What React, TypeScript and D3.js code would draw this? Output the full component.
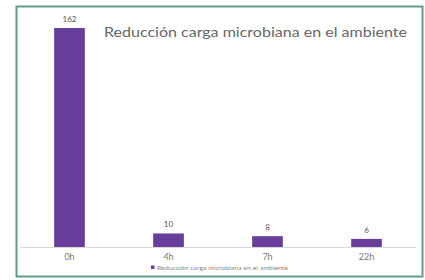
import React, { useEffect, useRef } from 'react';
import * as d3 from 'd3';

const categories = ['0h', '4h', '7h', '22h'];
const values = [162, 10, 8, 6];
const seriesName = 'Reducción carga microbiana en el ambiente';
const title = 'Reducción carga microbiana en el ambiente';

export default function App() {
    const svgRef = useRef<SVGSVGElement>(null);
    const width = 425,
        height = 280;
    const margin = { top: 28, right: 9, bottom: 33, left: 20 };

    useEffect(() => {
        const svg = d3.select(svgRef.current);
        svg.selectAll('*').remove();

        // frame
        const frame = { x0: 16.5, y0: 6.5, x1: 422.5, y1: 276.5 };
        svg.append('rect')
            .attr('x', frame.x0)
            .attr('y', frame.y0)
            .attr('width', frame.x1 - frame.x0)
            .attr('height', frame.y1 - frame.y0)
            .attr('fill', '#fff')
            .attr('stroke', '#5e9c88')
            .attr('stroke-width', 2);

        const baseline = height - margin.bottom;
        const x = d3
            .scaleBand()
            .domain(categories)
            .range([margin.left, width - margin.right])
            .paddingInner(0.69)
            .paddingOuter(0.345);
        const y = d3.scaleLinear().domain([0, 162]).range([baseline, margin.top]);

        // baseline
        svg.append('line')
            .attr('x1', margin.left)
            .attr('x2', width - margin.right)
            .attr('y1', baseline + 0.5)
            .attr('y2', baseline + 0.5)
            .attr('stroke', '#d9d9d9')
            .attr('stroke-width', 1);

        // bars
        svg.selectAll('rect.bar')
            .data(values)
            .join('rect')
            .attr('class', 'bar')
            .attr('x', (d, i) => x(categories[i])!)
            .attr('y', (d) => y(d))
            .attr('width', x.bandwidth())
            .attr('height', (d) => baseline - y(d))
            .attr('fill', '#673f9a');

        // value labels
        svg.selectAll('text.val')
            .data(values)
            .join('text')
            .attr('class', 'val')
            .attr('x', (d, i) => x(categories[i])! + x.bandwidth() / 2)
            .attr('y', (d) => y(d) - 6)
            .attr('text-anchor', 'middle')
            .attr('font-family', 'Lato, sans-serif')
            .attr('font-size', 8)
            .attr('fill', '#555')
            .text((d) => d);

        // category labels
        svg.selectAll('text.cat')
            .data(categories)
            .join('text')
            .attr('class', 'cat')
            .attr('x', (d) => x(d)! + x.bandwidth() / 2)
            .attr('y', baseline + 13)
            .attr('text-anchor', 'middle')
            .attr('font-family', 'Lato, sans-serif')
            .attr('font-size', 9)
            .attr('fill', '#777')
            .text((d) => d);

        // title
        svg.append('text')
            .attr('x', 104)
            .attr('y', 37)
            .attr('font-family', 'Lato, sans-serif')
            .attr('font-size', 14)
            .attr('fill', '#666')
            .attr('textLength', 303)
            .attr('lengthAdjust', 'spacingAndGlyphs')
            .text(title);

        // legend
        const lg = svg.append('g').attr('transform', 'translate(151, 268)');
        lg.append('rect').attr('x', 0).attr('y', -2.5).attr('width', 3.5).attr('height', 3.5).attr('fill', '#673f9a');
        lg.append('text')
            .attr('x', 6)
            .attr('y', 1.5)
            .attr('font-family', 'Lato, sans-serif')
            .attr('font-size', 5)
            .attr('fill', '#888')
            .attr('textLength', 131)
            .attr('lengthAdjust', 'spacingAndGlyphs')
            .text(seriesName);
    }, []);

    return (
        <div style={{ position: 'absolute', left: 0, top: 0 }}>
            <svg ref={svgRef} width={width} height={height} style={{ display: 'block' }} />
        </div>
    );
}
